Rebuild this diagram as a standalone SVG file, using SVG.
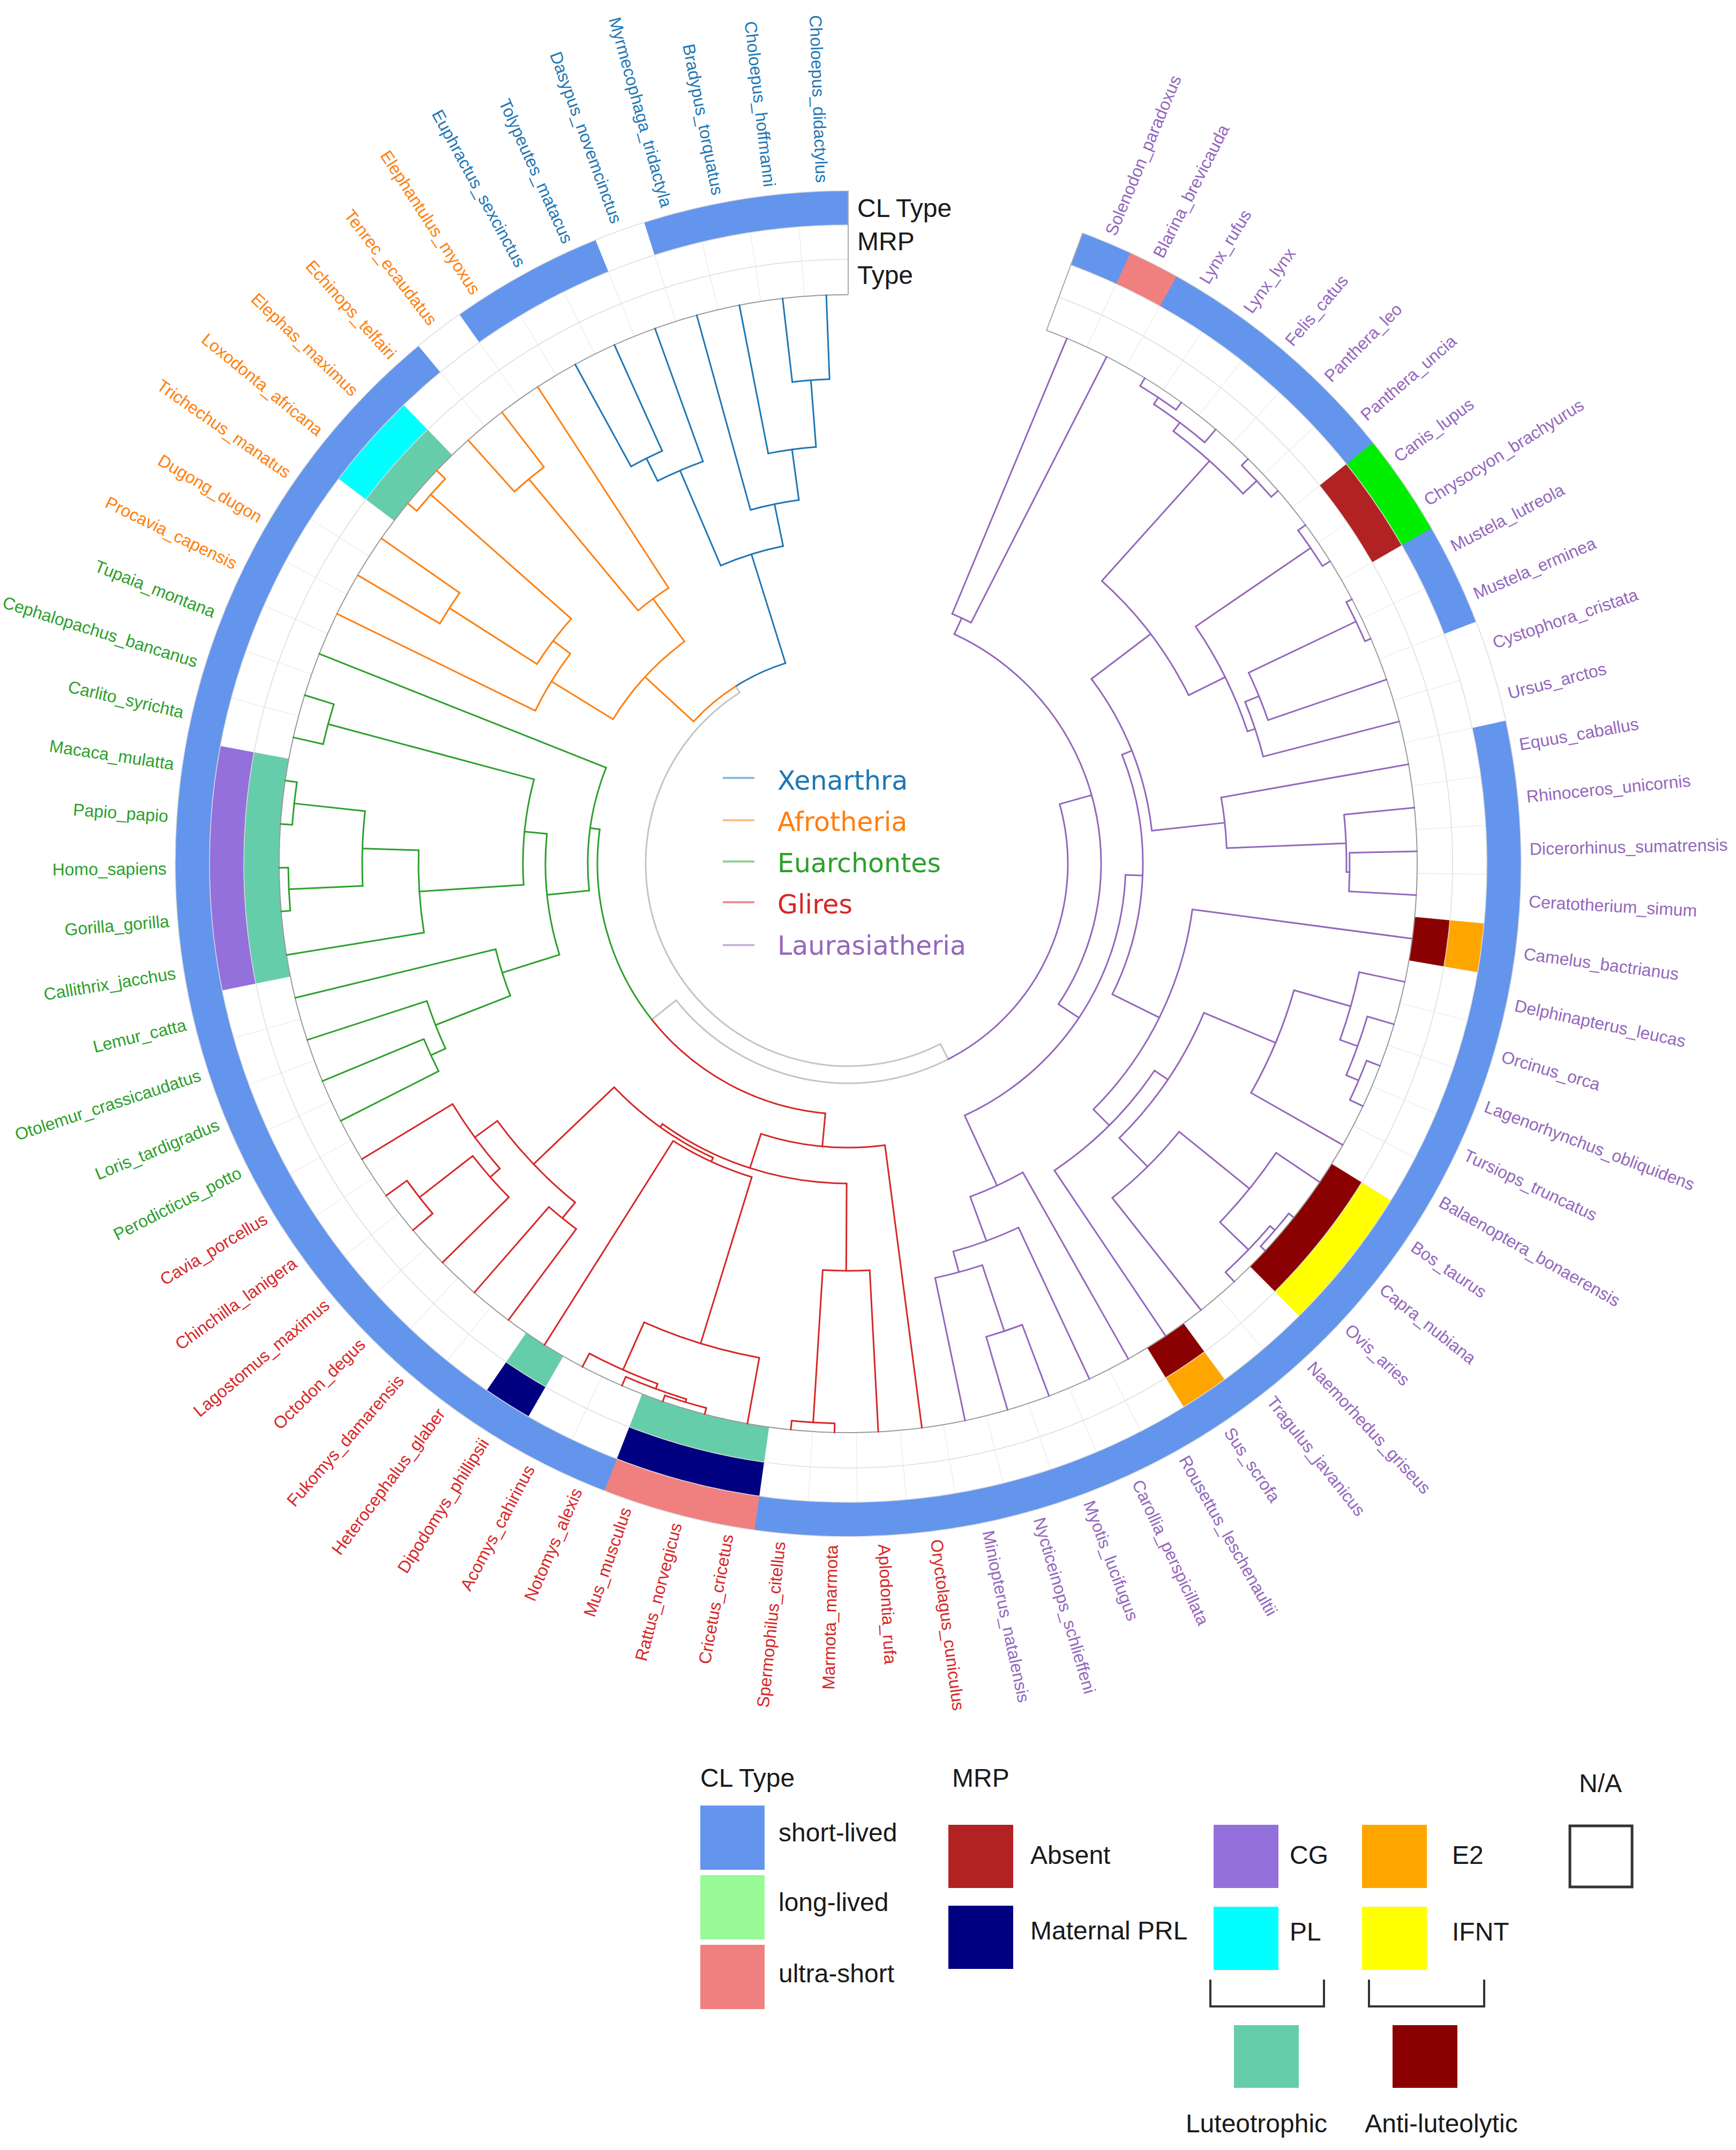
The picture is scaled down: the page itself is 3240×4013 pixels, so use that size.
<svg xmlns="http://www.w3.org/2000/svg" width="3240" height="4013" viewBox="0 0 3240 4013">
<style>
.t line{stroke-width:3;stroke-linecap:round}
.t circle{fill:none;stroke-width:3;stroke-linecap:round}
.xe{stroke:#1f77b4}.af{stroke:#ff7f0e}.eu{stroke:#2ca02c}.gl{stroke:#d62728}.la{stroke:#9467bd}.gr{stroke:#c4c4c4}
.rg circle{fill:none;stroke-linecap:butt}
.lab{font-family:"Liberation Sans",Arial,sans-serif;font-size:32px}
.L{text-anchor:end}
.lg{font-family:"Liberation Sans",Arial,sans-serif;font-size:48px;fill:#1a1a1a}
.ck{font-family:"DejaVu Sans",Verdana,sans-serif;font-size:49px}
</style>
<rect width="3240" height="4013" fill="#fff"/>
<g transform="translate(1583,1612)">
<g id="rings" class="rg">
<circle r="1159" stroke="#ececec" stroke-width="194" pathLength="360" stroke-dasharray="0.07 4.3404" transform="rotate(-69.635)"/>
<circle r="1159" stroke="#fff" stroke-width="198" pathLength="360" stroke-dasharray="20.3 400" transform="rotate(270.05)"/>
<circle r="1224" stroke="#6495ED" stroke-width="64" pathLength="360" stroke-dasharray="339.6 400" transform="rotate(-69.6)"/>
<g stroke-width="64">
<circle r="1224" stroke="#fff" pathLength="360" stroke-dasharray="4.41 400" transform="rotate(247.948)"/>
<circle r="1224" stroke="#fff" pathLength="360" stroke-dasharray="4.41 400" transform="rotate(230.306)"/>
<circle r="1224" stroke="#fff" pathLength="360" stroke-dasharray="8.821 400" transform="rotate(-21.086)"/>
<circle r="1224" stroke="#F08080" pathLength="360" stroke-dasharray="13.231 400" transform="rotate(98.0)"/>
<circle r="1224" stroke="#00EE00" pathLength="360" stroke-dasharray="8.821 400" transform="rotate(-38.728)"/>
<circle r="1224" stroke="#F08080" pathLength="360" stroke-dasharray="4.41 400" transform="rotate(-65.19)"/>
<circle r="1160" stroke="#00FFFF" pathLength="360" stroke-dasharray="8.821 400" transform="rotate(217.075)"/>
<circle r="1160" stroke="#9370DB" pathLength="360" stroke-dasharray="22.052 400" transform="rotate(168.561)"/>
<circle r="1160" stroke="#000080" pathLength="360" stroke-dasharray="4.41 400" transform="rotate(120.046)"/>
<circle r="1160" stroke="#000080" pathLength="360" stroke-dasharray="13.231 400" transform="rotate(98.0)"/>
<circle r="1160" stroke="#FFA500" pathLength="360" stroke-dasharray="4.41 400" transform="rotate(53.890)"/>
<circle r="1160" stroke="#FFFF00" pathLength="360" stroke-dasharray="13.231 400" transform="rotate(31.838)"/>
<circle r="1160" stroke="#FFA500" pathLength="360" stroke-dasharray="4.41 400" transform="rotate(5.376)"/>
<circle r="1160" stroke="#B22222" pathLength="360" stroke-dasharray="8.821 400" transform="rotate(-38.728)"/>
</g>
<g stroke-width="66">
<circle r="1095" stroke="#66CDAA" pathLength="360" stroke-dasharray="8.821 400" transform="rotate(217.075)"/>
<circle r="1095" stroke="#66CDAA" pathLength="360" stroke-dasharray="22.052 400" transform="rotate(168.561)"/>
<circle r="1095" stroke="#66CDAA" pathLength="360" stroke-dasharray="4.41 400" transform="rotate(120.046)"/>
<circle r="1095" stroke="#66CDAA" pathLength="360" stroke-dasharray="13.231 400" transform="rotate(98.0)"/>
<circle r="1095" stroke="#8B0000" pathLength="360" stroke-dasharray="4.41 400" transform="rotate(53.890)"/>
<circle r="1095" stroke="#8B0000" pathLength="360" stroke-dasharray="13.231 400" transform="rotate(31.838)"/>
<circle r="1095" stroke="#8B0000" pathLength="360" stroke-dasharray="4.41 400" transform="rotate(5.376)"/>
</g>
<g stroke="#dcdcdc" stroke-width="1.5">
<circle r="1128" pathLength="360" stroke-dasharray="339.6 400" transform="rotate(-69.6)"/>
<circle r="1192" pathLength="360" stroke-dasharray="339.6 400" transform="rotate(-69.6)"/>
<circle r="1256" pathLength="360" stroke-dasharray="339.6 400" transform="rotate(-69.6)"/>
</g>
<circle r="1062" stroke="#9a9a9a" stroke-width="2" pathLength="360" stroke-dasharray="339.6 400" transform="rotate(-69.6)"/>
<line x1="1062" x2="1256" transform="rotate(270)" stroke="#aaa" stroke-width="2"/>
<line x1="1062" x2="1256" transform="rotate(-69.6)" stroke="#aaa" stroke-width="2"/>
</g>
<g id="connectors" class="t">
<g id="root" class="gr" style="stroke-width:4">
<line x1="378" x2="392" transform="rotate(237.612)"/>
<circle r="378" pathLength="360" stroke-dasharray="174.702 400" transform="rotate(62.910)"/>
<line x1="378" x2="410" transform="rotate(62.910)"/>
<circle r="410" pathLength="360" stroke-dasharray="78.629 400" transform="rotate(62.910)"/>
<line x1="410" x2="468" transform="rotate(141.539)"/>
</g>
<g id="xenarthra-tree" class="xe">
<line x1="905" x2="1062" transform="rotate(267.795)"/>
<line x1="905" x2="1062" transform="rotate(263.384)"/>
<circle r="905" pathLength="360" stroke-dasharray="4.411 400" transform="rotate(263.384)"/>
<line x1="780" x2="905" transform="rotate(265.590)"/>
<line x1="780" x2="1062" transform="rotate(258.974)"/>
<circle r="780" pathLength="360" stroke-dasharray="6.616 400" transform="rotate(258.974)"/>
<line x1="685" x2="780" transform="rotate(262.282)"/>
<line x1="685" x2="1062" transform="rotate(254.564)"/>
<circle r="685" pathLength="360" stroke-dasharray="7.718 400" transform="rotate(254.564)"/>
<line x1="605" x2="685" transform="rotate(258.423)"/>
<line x1="845" x2="1062" transform="rotate(245.743)"/>
<line x1="845" x2="1062" transform="rotate(241.332)"/>
<circle r="845" pathLength="360" stroke-dasharray="4.411 400" transform="rotate(241.332)"/>
<line x1="798" x2="845" transform="rotate(243.538)"/>
<line x1="798" x2="1062" transform="rotate(250.153)"/>
<circle r="798" pathLength="360" stroke-dasharray="6.615 400" transform="rotate(243.538)"/>
<line x1="605" x2="798" transform="rotate(246.846)"/>
<circle r="605" pathLength="360" stroke-dasharray="11.577 400" transform="rotate(246.846)"/>
<line x1="392" x2="605" transform="rotate(252.635)"/>
<circle r="392" pathLength="360" stroke-dasharray="15.023 400" transform="rotate(237.612)"/>
</g>
<g id="afrotheria-tree" class="af">
<line x1="933" x2="1062" transform="rotate(232.512)"/>
<line x1="933" x2="1062" transform="rotate(228.101)"/>
<circle r="933" pathLength="360" stroke-dasharray="4.411 400" transform="rotate(228.101)"/>
<line x1="614" x2="933" transform="rotate(230.307)"/>
<line x1="614" x2="1062" transform="rotate(236.922)"/>
<circle r="614" pathLength="360" stroke-dasharray="6.615 400" transform="rotate(230.307)"/>
<line x1="515" x2="614" transform="rotate(233.615)"/>
<line x1="1040" x2="1062" transform="rotate(223.691)"/>
<line x1="1040" x2="1062" transform="rotate(219.280)"/>
<circle r="1040" pathLength="360" stroke-dasharray="4.411 400" transform="rotate(219.280)"/>
<line x1="690" x2="1040" transform="rotate(221.486)"/>
<line x1="884" x2="1062" transform="rotate(214.870)"/>
<line x1="884" x2="1062" transform="rotate(210.460)"/>
<circle r="884" pathLength="360" stroke-dasharray="4.41 400" transform="rotate(210.460)"/>
<line x1="690" x2="884" transform="rotate(212.665)"/>
<circle r="690" pathLength="360" stroke-dasharray="8.821 400" transform="rotate(212.665)"/>
<line x1="650" x2="690" transform="rotate(217.076)"/>
<line x1="650" x2="1062" transform="rotate(206.049)"/>
<circle r="650" pathLength="360" stroke-dasharray="11.027 400" transform="rotate(206.049)"/>
<line x1="515" x2="650" transform="rotate(211.563)"/>
<circle r="515" pathLength="360" stroke-dasharray="22.052 400" transform="rotate(211.563)"/>
<line x1="392" x2="515" transform="rotate(222.589)"/>
<circle r="392" pathLength="360" stroke-dasharray="15.023 400" transform="rotate(222.589)"/>
</g>
<g id="euarchontes-tree" class="eu">
<line x1="1005" x2="1062" transform="rotate(197.228)"/>
<line x1="1005" x2="1062" transform="rotate(192.818)"/>
<circle r="1005" pathLength="360" stroke-dasharray="4.41 400" transform="rotate(192.818)"/>
<line x1="607" x2="1005" transform="rotate(195.023)"/>
<line x1="1040" x2="1062" transform="rotate(188.408)"/>
<line x1="1040" x2="1062" transform="rotate(183.997)"/>
<circle r="1040" pathLength="360" stroke-dasharray="4.411 400" transform="rotate(183.997)"/>
<line x1="907" x2="1040" transform="rotate(186.203)"/>
<line x1="1045" x2="1062" transform="rotate(179.587)"/>
<line x1="1045" x2="1062" transform="rotate(175.176)"/>
<circle r="1045" pathLength="360" stroke-dasharray="4.411 400" transform="rotate(175.176)"/>
<line x1="907" x2="1045" transform="rotate(177.382)"/>
<circle r="907" pathLength="360" stroke-dasharray="8.821 400" transform="rotate(177.382)"/>
<line x1="802" x2="907" transform="rotate(181.792)"/>
<line x1="802" x2="1062" transform="rotate(170.766)"/>
<circle r="802" pathLength="360" stroke-dasharray="11.026 400" transform="rotate(170.766)"/>
<line x1="607" x2="802" transform="rotate(176.279)"/>
<circle r="607" pathLength="360" stroke-dasharray="18.744 400" transform="rotate(176.279)"/>
<line x1="565" x2="607" transform="rotate(185.651)"/>
<line x1="857" x2="1062" transform="rotate(157.535)"/>
<line x1="857" x2="1062" transform="rotate(153.124)"/>
<circle r="857" pathLength="360" stroke-dasharray="4.411 400" transform="rotate(153.124)"/>
<line x1="827" x2="857" transform="rotate(155.330)"/>
<line x1="827" x2="1062" transform="rotate(161.945)"/>
<circle r="827" pathLength="360" stroke-dasharray="6.615 400" transform="rotate(155.330)"/>
<line x1="677" x2="827" transform="rotate(158.637)"/>
<line x1="677" x2="1062" transform="rotate(166.356)"/>
<circle r="677" pathLength="360" stroke-dasharray="7.719 400" transform="rotate(158.637)"/>
<line x1="565" x2="677" transform="rotate(162.497)"/>
<circle r="565" pathLength="360" stroke-dasharray="23.154 400" transform="rotate(162.497)"/>
<line x1="486" x2="565" transform="rotate(174.074)"/>
<line x1="486" x2="1062" transform="rotate(201.639)"/>
<circle r="486" pathLength="360" stroke-dasharray="27.565 400" transform="rotate(174.074)"/>
<line x1="468" x2="486" transform="rotate(187.857)"/>
<circle r="468" pathLength="360" stroke-dasharray="46.318 400" transform="rotate(141.539)"/>
</g>
<g id="glires-tree" class="gl">
<line x1="1014" x2="1062" transform="rotate(144.304)"/>
<line x1="1014" x2="1062" transform="rotate(139.893)"/>
<circle r="1014" pathLength="360" stroke-dasharray="4.411 400" transform="rotate(139.893)"/>
<line x1="888" x2="1014" transform="rotate(142.099)"/>
<line x1="888" x2="1062" transform="rotate(135.483)"/>
<circle r="888" pathLength="360" stroke-dasharray="6.616 400" transform="rotate(135.483)"/>
<line x1="864" x2="888" transform="rotate(138.791)"/>
<line x1="864" x2="1062" transform="rotate(148.714)"/>
<circle r="864" pathLength="360" stroke-dasharray="9.923 400" transform="rotate(138.791)"/>
<line x1="812" x2="864" transform="rotate(143.753)"/>
<line x1="850" x2="1062" transform="rotate(131.072)"/>
<line x1="850" x2="1062" transform="rotate(126.662)"/>
<circle r="850" pathLength="360" stroke-dasharray="4.41 400" transform="rotate(126.662)"/>
<line x1="812" x2="850" transform="rotate(128.867)"/>
<circle r="812" pathLength="360" stroke-dasharray="14.886 400" transform="rotate(128.867)"/>
<line x1="604" x2="812" transform="rotate(136.310)"/>
<line x1="1050" x2="1062" transform="rotate(109.020)"/>
<line x1="1050" x2="1062" transform="rotate(104.610)"/>
<circle r="1050" pathLength="360" stroke-dasharray="4.41 400" transform="rotate(104.610)"/>
<line x1="1044" x2="1050" transform="rotate(106.815)"/>
<line x1="1044" x2="1062" transform="rotate(113.431)"/>
<circle r="1044" pathLength="360" stroke-dasharray="6.616 400" transform="rotate(106.815)"/>
<line x1="1034" x2="1044" transform="rotate(110.123)"/>
<line x1="1034" x2="1062" transform="rotate(117.841)"/>
<circle r="1034" pathLength="360" stroke-dasharray="7.718 400" transform="rotate(110.123)"/>
<line x1="937" x2="1034" transform="rotate(113.982)"/>
<line x1="937" x2="1062" transform="rotate(100.200)"/>
<circle r="937" pathLength="360" stroke-dasharray="13.782 400" transform="rotate(100.200)"/>
<line x1="612" x2="937" transform="rotate(107.091)"/>
<line x1="612" x2="1062" transform="rotate(122.252)"/>
<circle r="612" pathLength="360" stroke-dasharray="15.161 400" transform="rotate(107.091)"/>
<line x1="604" x2="612" transform="rotate(114.672)"/>
<circle r="604" pathLength="360" stroke-dasharray="21.638 400" transform="rotate(114.672)"/>
<line x1="597" x2="604" transform="rotate(125.491)"/>
<line x1="1045" x2="1062" transform="rotate(95.789)"/>
<line x1="1045" x2="1062" transform="rotate(91.379)"/>
<circle r="1045" pathLength="360" stroke-dasharray="4.41 400" transform="rotate(91.379)"/>
<line x1="760" x2="1045" transform="rotate(93.584)"/>
<line x1="760" x2="1062" transform="rotate(86.968)"/>
<circle r="760" pathLength="360" stroke-dasharray="6.616 400" transform="rotate(86.968)"/>
<line x1="597" x2="760" transform="rotate(90.276)"/>
<circle r="597" pathLength="360" stroke-dasharray="35.215 400" transform="rotate(90.276)"/>
<line x1="530" x2="597" transform="rotate(107.884)"/>
<line x1="530" x2="1062" transform="rotate(82.558)"/>
<circle r="530" pathLength="360" stroke-dasharray="25.326 400" transform="rotate(82.558)"/>
<line x1="468" x2="530" transform="rotate(95.221)"/>
<circle r="468" pathLength="360" stroke-dasharray="46.318 400" transform="rotate(95.221)"/>
</g>
<g id="laurasiatheria-tree" class="la">
<line x1="920" x2="1062" transform="rotate(73.737)"/>
<line x1="920" x2="1062" transform="rotate(69.327)"/>
<circle r="920" pathLength="360" stroke-dasharray="4.41 400" transform="rotate(69.327)"/>
<line x1="790" x2="920" transform="rotate(71.532)"/>
<line x1="790" x2="1062" transform="rotate(78.148)"/>
<circle r="790" pathLength="360" stroke-dasharray="6.616 400" transform="rotate(71.532)"/>
<line x1="750" x2="790" transform="rotate(74.840)"/>
<line x1="750" x2="1062" transform="rotate(64.916)"/>
<circle r="750" pathLength="360" stroke-dasharray="9.924 400" transform="rotate(64.916)"/>
<line x1="662" x2="750" transform="rotate(69.878)"/>
<line x1="662" x2="1062" transform="rotate(60.506)"/>
<circle r="662" pathLength="360" stroke-dasharray="9.372 400" transform="rotate(60.506)"/>
<line x1="518" x2="662" transform="rotate(65.192)"/>
<line x1="1050" x2="1062" transform="rotate(42.864)"/>
<line x1="1050" x2="1062" transform="rotate(38.454)"/>
<circle r="1050" pathLength="360" stroke-dasharray="4.41 400" transform="rotate(38.454)"/>
<line x1="1038" x2="1050" transform="rotate(40.659)"/>
<line x1="1038" x2="1062" transform="rotate(47.275)"/>
<circle r="1038" pathLength="360" stroke-dasharray="6.616 400" transform="rotate(40.659)"/>
<line x1="964" x2="1038" transform="rotate(43.967)"/>
<line x1="964" x2="1062" transform="rotate(34.044)"/>
<circle r="964" pathLength="360" stroke-dasharray="9.923 400" transform="rotate(34.044)"/>
<line x1="795" x2="964" transform="rotate(39.006)"/>
<line x1="795" x2="1062" transform="rotate(51.685)"/>
<circle r="795" pathLength="360" stroke-dasharray="12.679 400" transform="rotate(39.006)"/>
<line x1="720" x2="795" transform="rotate(45.346)"/>
<line x1="1035" x2="1062" transform="rotate(25.223)"/>
<line x1="1035" x2="1062" transform="rotate(20.812)"/>
<circle r="1035" pathLength="360" stroke-dasharray="4.411 400" transform="rotate(20.812)"/>
<line x1="1010" x2="1035" transform="rotate(23.018)"/>
<line x1="1010" x2="1062" transform="rotate(16.402)"/>
<circle r="1010" pathLength="360" stroke-dasharray="6.616 400" transform="rotate(16.402)"/>
<line x1="975" x2="1010" transform="rotate(19.710)"/>
<line x1="975" x2="1062" transform="rotate(11.992)"/>
<circle r="975" pathLength="360" stroke-dasharray="7.718 400" transform="rotate(11.992)"/>
<line x1="865" x2="975" transform="rotate(15.851)"/>
<line x1="865" x2="1062" transform="rotate(29.633)"/>
<circle r="865" pathLength="360" stroke-dasharray="13.782 400" transform="rotate(15.851)"/>
<line x1="720" x2="865" transform="rotate(22.742)"/>
<circle r="720" pathLength="360" stroke-dasharray="22.604 400" transform="rotate(22.742)"/>
<line x1="690" x2="720" transform="rotate(34.044)"/>
<line x1="690" x2="1062" transform="rotate(56.096)"/>
<circle r="690" pathLength="360" stroke-dasharray="22.052 400" transform="rotate(34.044)"/>
<line x1="648" x2="690" transform="rotate(45.070)"/>
<line x1="648" x2="1062" transform="rotate(7.581)"/>
<circle r="648" pathLength="360" stroke-dasharray="37.489 400" transform="rotate(7.581)"/>
<line x1="550" x2="648" transform="rotate(26.326)"/>
<line x1="936" x2="1062" transform="rotate(3.171)"/>
<line x1="936" x2="1062" transform="rotate(-1.240)"/>
<circle r="936" pathLength="360" stroke-dasharray="4.411 400" transform="rotate(-1.240)"/>
<line x1="930" x2="936" transform="rotate(0.966)"/>
<line x1="930" x2="1062" transform="rotate(-5.650)"/>
<circle r="930" pathLength="360" stroke-dasharray="6.616 400" transform="rotate(-5.650)"/>
<line x1="707" x2="930" transform="rotate(-2.342)"/>
<line x1="707" x2="1062" transform="rotate(-10.060)"/>
<circle r="707" pathLength="360" stroke-dasharray="7.718 400" transform="rotate(-10.060)"/>
<line x1="570" x2="707" transform="rotate(-6.201)"/>
<line x1="1045" x2="1062" transform="rotate(-32.112)"/>
<line x1="1045" x2="1062" transform="rotate(-36.523)"/>
<circle r="1045" pathLength="360" stroke-dasharray="4.411 400" transform="rotate(-36.523)"/>
<line x1="785" x2="1045" transform="rotate(-34.318)"/>
<line x1="1050" x2="1062" transform="rotate(-23.292)"/>
<line x1="1050" x2="1062" transform="rotate(-27.702)"/>
<circle r="1050" pathLength="360" stroke-dasharray="4.41 400" transform="rotate(-27.702)"/>
<line x1="828" x2="1050" transform="rotate(-25.497)"/>
<line x1="828" x2="1062" transform="rotate(-18.881)"/>
<circle r="828" pathLength="360" stroke-dasharray="6.616 400" transform="rotate(-25.497)"/>
<line x1="800" x2="828" transform="rotate(-22.189)"/>
<line x1="800" x2="1062" transform="rotate(-14.471)"/>
<circle r="800" pathLength="360" stroke-dasharray="7.718 400" transform="rotate(-22.189)"/>
<line x1="785" x2="800" transform="rotate(-18.330)"/>
<circle r="785" pathLength="360" stroke-dasharray="15.988 400" transform="rotate(-34.318)"/>
<line x1="709" x2="785" transform="rotate(-26.324)"/>
<line x1="1045" x2="1062" transform="rotate(-40.933)"/>
<line x1="1045" x2="1062" transform="rotate(-45.344)"/>
<circle r="1045" pathLength="360" stroke-dasharray="4.411 400" transform="rotate(-45.344)"/>
<line x1="1010" x2="1045" transform="rotate(-43.139)"/>
<line x1="1045" x2="1062" transform="rotate(-54.164)"/>
<line x1="1045" x2="1062" transform="rotate(-58.575)"/>
<circle r="1045" pathLength="360" stroke-dasharray="4.411 400" transform="rotate(-58.575)"/>
<line x1="1030" x2="1045" transform="rotate(-56.370)"/>
<line x1="1030" x2="1062" transform="rotate(-49.754)"/>
<circle r="1030" pathLength="360" stroke-dasharray="6.616 400" transform="rotate(-56.370)"/>
<line x1="1010" x2="1030" transform="rotate(-53.062)"/>
<circle r="1010" pathLength="360" stroke-dasharray="9.923 400" transform="rotate(-53.062)"/>
<line x1="709" x2="1010" transform="rotate(-48.101)"/>
<circle r="709" pathLength="360" stroke-dasharray="21.777 400" transform="rotate(-48.101)"/>
<line x1="570" x2="709" transform="rotate(-37.213)"/>
<circle r="570" pathLength="360" stroke-dasharray="31.012 400" transform="rotate(-37.213)"/>
<line x1="550" x2="570" transform="rotate(-21.707)"/>
<circle r="550" pathLength="360" stroke-dasharray="48.033 400" transform="rotate(-21.707)"/>
<line x1="518" x2="550" transform="rotate(2.310)"/>
<circle r="518" pathLength="360" stroke-dasharray="62.882 400" transform="rotate(2.310)"/>
<line x1="472" x2="518" transform="rotate(33.751)"/>
<line x1="505" x2="1062" transform="rotate(-62.985)"/>
<line x1="505" x2="1062" transform="rotate(-67.396)"/>
<circle r="505" pathLength="360" stroke-dasharray="4.411 400" transform="rotate(-67.396)"/>
<line x1="472" x2="505" transform="rotate(-65.191)"/>
<circle r="472" pathLength="360" stroke-dasharray="98.942 400" transform="rotate(-65.191)"/>
<line x1="410" x2="472" transform="rotate(-15.720)"/>
<circle r="410" pathLength="360" stroke-dasharray="78.63 400" transform="rotate(-15.720)"/>
</g>
</g>
<g id="leaf-labels" class="lab">
<g id="xenarthra-labels" class="L" fill="#1f77b4">
<text transform="rotate(87.795)" x="-1272" dy="0.35em">Choloepus_didactylus</text>
<text transform="rotate(83.384)" x="-1272" dy="0.35em">Choloepus_hoffmanni</text>
<text transform="rotate(78.974)" x="-1272" dy="0.35em">Bradypus_torquatus</text>
<text transform="rotate(74.564)" x="-1272" dy="0.35em">Myrmecophaga_tridactyla</text>
<text transform="rotate(70.153)" x="-1272" dy="0.35em">Dasypus_novemcinctus</text>
<text transform="rotate(65.743)" x="-1272" dy="0.35em">Tolypeutes_matacus</text>
<text transform="rotate(61.332)" x="-1272" dy="0.35em">Euphractus_sexcinctus</text>
</g>
<g id="afrotheria-labels" class="L" fill="#ff7f0e">
<text transform="rotate(56.922)" x="-1272" dy="0.35em">Elephantulus_myoxus</text>
<text transform="rotate(52.512)" x="-1272" dy="0.35em">Tenrec_ecaudatus</text>
<text transform="rotate(48.101)" x="-1272" dy="0.35em">Echinops_telfairi</text>
<text transform="rotate(43.691)" x="-1272" dy="0.35em">Elephas_maximus</text>
<text transform="rotate(39.280)" x="-1272" dy="0.35em">Loxodonta_africana</text>
<text transform="rotate(34.870)" x="-1272" dy="0.35em">Trichechus_manatus</text>
<text transform="rotate(30.460)" x="-1272" dy="0.35em">Dugong_dugon</text>
<text transform="rotate(26.049)" x="-1272" dy="0.35em">Procavia_capensis</text>
</g>
<g id="euarchontes-labels" class="L" fill="#2ca02c">
<text transform="rotate(21.639)" x="-1272" dy="0.35em">Tupaia_montana</text>
<text transform="rotate(17.228)" x="-1272" dy="0.35em">Cephalopachus_bancanus</text>
<text transform="rotate(12.818)" x="-1272" dy="0.35em">Carlito_syrichta</text>
<text transform="rotate(8.408)" x="-1272" dy="0.35em">Macaca_mulatta</text>
<text transform="rotate(3.997)" x="-1272" dy="0.35em">Papio_papio</text>
<text transform="rotate(-0.413)" x="-1272" dy="0.35em">Homo_sapiens</text>
<text transform="rotate(-4.824)" x="-1272" dy="0.35em">Gorilla_gorilla</text>
<text transform="rotate(-9.234)" x="-1272" dy="0.35em">Callithrix_jacchus</text>
<text transform="rotate(-13.644)" x="-1272" dy="0.35em">Lemur_catta</text>
<text transform="rotate(-18.055)" x="-1272" dy="0.35em">Otolemur_crassicaudatus</text>
<text transform="rotate(-22.465)" x="-1272" dy="0.35em">Loris_tardigradus</text>
<text transform="rotate(-26.876)" x="-1272" dy="0.35em">Perodicticus_potto</text>
</g>
<g id="glires-labels" fill="#d62728">
<g class="L">
<text transform="rotate(-31.286)" x="-1272" dy="0.35em">Cavia_porcellus</text>
<text transform="rotate(-35.696)" x="-1272" dy="0.35em">Chinchilla_lanigera</text>
<text transform="rotate(-40.107)" x="-1272" dy="0.35em">Lagostomus_maximus</text>
<text transform="rotate(-44.517)" x="-1272" dy="0.35em">Octodon_degus</text>
<text transform="rotate(-48.928)" x="-1272" dy="0.35em">Fukomys_damarensis</text>
<text transform="rotate(-53.338)" x="-1272" dy="0.35em">Heterocephalus_glaber</text>
<text transform="rotate(-57.748)" x="-1272" dy="0.35em">Dipodomys_phillipsii</text>
<text transform="rotate(-62.159)" x="-1272" dy="0.35em">Acomys_cahirinus</text>
<text transform="rotate(-66.569)" x="-1272" dy="0.35em">Notomys_alexis</text>
<text transform="rotate(-70.980)" x="-1272" dy="0.35em">Mus_musculus</text>
<text transform="rotate(-75.390)" x="-1272" dy="0.35em">Rattus_norvegicus</text>
<text transform="rotate(-79.800)" x="-1272" dy="0.35em">Cricetus_cricetus</text>
<text transform="rotate(-84.211)" x="-1272" dy="0.35em">Spermophilus_citellus</text>
<text transform="rotate(-88.621)" x="-1272" dy="0.35em">Marmota_marmota</text>
</g>
<text transform="rotate(86.968)" x="1272" dy="0.35em">Aplodontia_rufa</text>
<text transform="rotate(82.558)" x="1272" dy="0.35em">Oryctolagus_cuniculus</text>
</g>
<g id="laurasiatheria-labels" fill="#9467bd">
<text transform="rotate(78.148)" x="1272" dy="0.35em">Miniopterus_natalensis</text>
<text transform="rotate(73.737)" x="1272" dy="0.35em">Nycticeinops_schlieffeni</text>
<text transform="rotate(69.327)" x="1272" dy="0.35em">Myotis_lucifugus</text>
<text transform="rotate(64.916)" x="1272" dy="0.35em">Carollia_perspicillata</text>
<text transform="rotate(60.506)" x="1272" dy="0.35em">Rousettus_leschenaultii</text>
<text transform="rotate(56.096)" x="1272" dy="0.35em">Sus_scrofa</text>
<text transform="rotate(51.685)" x="1272" dy="0.35em">Tragulus_javanicus</text>
<text transform="rotate(47.275)" x="1272" dy="0.35em">Naemorhedus_griseus</text>
<text transform="rotate(42.864)" x="1272" dy="0.35em">Ovis_aries</text>
<text transform="rotate(38.454)" x="1272" dy="0.35em">Capra_nubiana</text>
<text transform="rotate(34.044)" x="1272" dy="0.35em">Bos_taurus</text>
<text transform="rotate(29.633)" x="1272" dy="0.35em">Balaenoptera_bonaerensis</text>
<text transform="rotate(25.223)" x="1272" dy="0.35em">Tursiops_truncatus</text>
<text transform="rotate(20.812)" x="1272" dy="0.35em">Lagenorhynchus_obliquidens</text>
<text transform="rotate(16.402)" x="1272" dy="0.35em">Orcinus_orca</text>
<text transform="rotate(11.992)" x="1272" dy="0.35em">Delphinapterus_leucas</text>
<text transform="rotate(7.581)" x="1272" dy="0.35em">Camelus_bactrianus</text>
<text transform="rotate(3.171)" x="1272" dy="0.35em">Ceratotherium_simum</text>
<text transform="rotate(-1.240)" x="1272" dy="0.35em">Dicerorhinus_sumatrensis</text>
<text transform="rotate(-5.650)" x="1272" dy="0.35em">Rhinoceros_unicornis</text>
<text transform="rotate(-10.060)" x="1272" dy="0.35em">Equus_caballus</text>
<text transform="rotate(-14.471)" x="1272" dy="0.35em">Ursus_arctos</text>
<text transform="rotate(-18.881)" x="1272" dy="0.35em">Cystophora_cristata</text>
<text transform="rotate(-23.292)" x="1272" dy="0.35em">Mustela_erminea</text>
<text transform="rotate(-27.702)" x="1272" dy="0.35em">Mustela_lutreola</text>
<text transform="rotate(-32.112)" x="1272" dy="0.35em">Chrysocyon_brachyurus</text>
<text transform="rotate(-36.523)" x="1272" dy="0.35em">Canis_lupus</text>
<text transform="rotate(-40.933)" x="1272" dy="0.35em">Panthera_uncia</text>
<text transform="rotate(-45.344)" x="1272" dy="0.35em">Panthera_leo</text>
<text transform="rotate(-49.754)" x="1272" dy="0.35em">Felis_catus</text>
<text transform="rotate(-54.164)" x="1272" dy="0.35em">Lynx_lynx</text>
<text transform="rotate(-58.575)" x="1272" dy="0.35em">Lynx_rufus</text>
<text transform="rotate(-62.985)" x="1272" dy="0.35em">Blarina_brevicauda</text>
<text transform="rotate(-67.396)" x="1272" dy="0.35em">Solenodon_paradoxus</text>
</g>
</g>
</g>
<g id="ring-titles" class="lg">
<text x="1600" y="405">CL Type</text>
<text x="1600" y="467">MRP</text>
<text x="1600" y="530">Type</text>
</g>
<g id="clade-legend" class="ck">
<g id="key-xenarthra"><line x1="1349" y1="1452" x2="1408" y2="1452" stroke="#1f77b4" stroke-opacity="0.5" stroke-width="4"/><text x="1451" y="1474" fill="#1f77b4">Xenarthra</text></g>
<g id="key-afrotheria"><line x1="1349" y1="1531" x2="1408" y2="1531" stroke="#ff7f0e" stroke-opacity="0.5" stroke-width="4"/><text x="1451" y="1551" fill="#ff7f0e">Afrotheria</text></g>
<g id="key-euarchontes"><line x1="1349" y1="1608" x2="1408" y2="1608" stroke="#2ca02c" stroke-opacity="0.5" stroke-width="4"/><text x="1451" y="1628" fill="#2ca02c">Euarchontes</text></g>
<g id="key-glires"><line x1="1349" y1="1684" x2="1408" y2="1684" stroke="#d62728" stroke-opacity="0.5" stroke-width="4"/><text x="1451" y="1705" fill="#d62728">Glires</text></g>
<g id="key-laurasiatheria"><line x1="1349" y1="1764" x2="1408" y2="1764" stroke="#9467bd" stroke-opacity="0.5" stroke-width="4"/><text x="1451" y="1782" fill="#9467bd">Laurasiatheria</text></g>
</g>
<g id="trait-legend" class="lg">
<g id="legend-cltype">
<text x="1307" y="3335">CL Type</text>
<rect x="1307" y="3370" width="120" height="120" fill="#6495ED"/>
<text x="1453" y="3437">short-lived</text>
<rect x="1307" y="3500" width="120" height="120" fill="#98FB98"/>
<text x="1453" y="3567">long-lived</text>
<rect x="1307" y="3630" width="120" height="120" fill="#F08080"/>
<text x="1453" y="3700">ultra-short</text>
</g>
<g id="legend-mrp">
<text x="1777" y="3335">MRP</text>
<rect x="1770" y="3406" width="121" height="118" fill="#B22222"/>
<text x="1923" y="3479">Absent</text>
<rect x="1770" y="3557" width="121" height="118" fill="#000080"/>
<text x="1923" y="3620">Maternal PRL</text>
<rect x="2265" y="3406" width="121" height="118" fill="#9370DB"/>
<text x="2407" y="3479">CG</text>
<rect x="2265" y="3559" width="121" height="118" fill="#00FFFF"/>
<text x="2407" y="3622">PL</text>
<rect x="2542" y="3406" width="121" height="118" fill="#FFA500"/>
<text x="2710" y="3479">E2</text>
<rect x="2542" y="3559" width="121" height="118" fill="#FFFF00"/>
<text x="2710" y="3622">IFNT</text>
<path d="M2259 3695V3745H2471V3695M2555 3695V3745H2770V3695" fill="none" stroke="#333" stroke-width="4"/>
</g>
<g id="legend-type">
<rect x="2303" y="3780" width="121" height="117" fill="#66CDAA"/>
<text x="2345" y="3980" text-anchor="middle">Luteotrophic</text>
<rect x="2599" y="3780" width="121" height="117" fill="#8B0000"/>
<text x="2690" y="3980" text-anchor="middle">Anti-luteolytic</text>
</g>
<g id="legend-na">
<text x="2987" y="3345" text-anchor="middle">N/A</text>
<rect x="2930" y="3408" width="116" height="114" fill="#fff" stroke="#333" stroke-width="5"/>
</g>
</g>
</svg>
